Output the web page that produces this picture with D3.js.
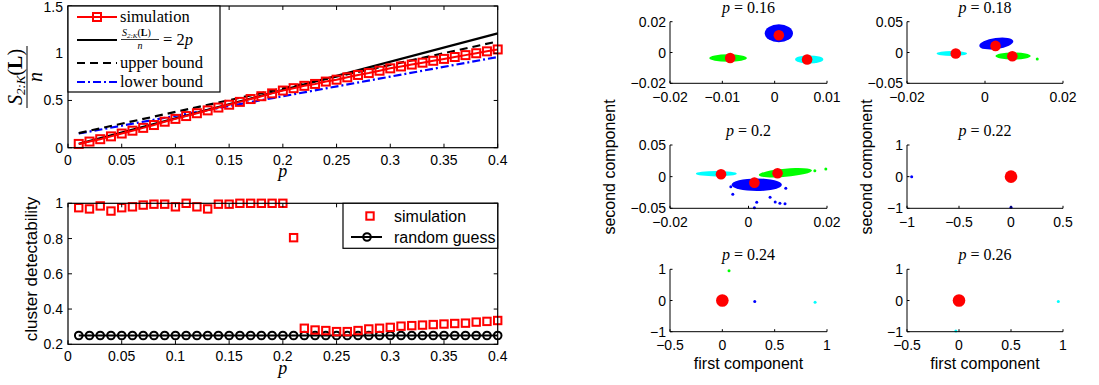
<!DOCTYPE html>
<html><head><meta charset="utf-8">
<script src="https://cdn.jsdelivr.net/npm/d3@7"></script>
<style>body{margin:0;background:#fff}svg{display:block}</style>
</head><body><svg id="c" width="1099" height="385"></svg>
<script>
// ---------- data ----------
const pValues = [0.01,0.02,0.03,0.04,0.05,0.06,0.07,0.08,0.09,0.10,0.11,0.12,0.13,0.14,0.15,0.16,0.17,0.18,0.19,0.20,
                 0.21,0.22,0.23,0.24,0.25,0.26,0.27,0.28,0.29,0.30,0.31,0.32,0.33,0.34,0.35,0.36,0.37,0.38,0.39,0.40];
const simRatio = [0.04,0.065,0.09,0.12,0.15,0.18,0.21,0.24,0.275,0.305,0.335,0.365,0.395,0.425,0.455,0.485,0.515,0.545,0.575,0.605,
                  0.63,0.655,0.675,0.70,0.72,0.745,0.77,0.79,0.815,0.84,0.86,0.88,0.90,0.92,0.94,0.96,0.98,1.00,1.02,1.04];
const theoryP = [0.01,0.40];
const theoryRatio = [0.04,1.21];
const upperP = [0.01,0.40];
const upperRatio = [0.155,1.125];
const lowerP = [0.01,0.40];
const lowerRatio = [0.15,0.96];
const detectSim = [0.975,0.968,0.985,0.956,0.975,0.98,0.99,0.995,0.995,0.98,1.0,0.98,0.968,0.995,0.995,1.0,1.0,1.0,1.0,1.0,
                   0.805,0.291,0.281,0.278,0.272,0.272,0.278,0.287,0.291,0.296,0.303,0.306,0.309,0.312,0.315,0.318,0.32,0.326,0.33,0.335];
const detectRandom = [0.25,0.25,0.25,0.25,0.25,0.25,0.25,0.25,0.25,0.25,0.25,0.25,0.25,0.25,0.25,0.25,0.25,0.25,0.25,0.25,
                      0.25,0.25,0.25,0.25,0.25,0.25,0.25,0.25,0.25,0.25,0.25,0.25,0.25,0.25,0.25,0.25,0.25,0.25,0.25,0.25];
const pTicks = [0,0.05,0.1,0.15,0.2,0.25,0.3,0.35,0.4];
const ratioTicks = [0,0.5,1,1.5];
const detectTicks = [0.2,0.4,0.6,0.8,1];

const panelTitles = ["0.16","0.18","0.2","0.22","0.24","0.26"];
const panelXDomains = [[-0.02,0.01],[-0.02,0.02],[-0.02,0.02],[-1,0.5],[-0.5,1],[-0.5,1]];
const panelYDomains = [[-0.02,0.02],[-0.05,0.05],[-0.05,0.05],[-1,1],[-1,1],[-1,1]];
const panelXTicks = [[-0.02,-0.01,0,0.01],[-0.02,0,0.02],[-0.02,0,0.02],[-1,-0.5,0,0.5],[-0.5,0,0.5,1],[-0.5,0,0.5,1]];
const panelYTicks = [[-0.02,0,0.02],[-0.05,0,0.05],[-0.05,0,0.05],[-1,0,1],[-1,0,1],[-1,0,1]];

// dense point clouds summarised as ellipses
const clusterPanel = [0,0,0,1,1,1,2,2,2];
const clusterColor = ["#0000ff","#00ff00","#00ffff","#0000ff","#00ffff","#00ff00","#00ffff","#00ff00","#0000ff"];
const clusterX  = [0.0008,-0.0089,0.0066, 0.0029,-0.0085,0.0072, -0.0082,0.0094,0.0021];
const clusterY  = [0.0125,-0.0036,-0.0045, 0.0146,-0.0016,-0.0058, 0.0046,0.0062,-0.0128];
const clusterRx = [0.0027,0.0036,0.0027, 0.0044,0.0039,0.0045, 0.0052,0.0068,0.0064];
const clusterRy = [0.0058,0.0024,0.0026, 0.0090,0.0042,0.0058, 0.0042,0.0065,0.0100];
const clusterTilt = [0,0,0,-8,0,0,0,-5,0];

// isolated points
const pointPanel = [1,2,2,2,2,2,2,2,2,2,2,2,3,3,4,4,4,5,5];
const pointColor = ["#00ff00","#00ff00","#00ff00","#0000ff","#0000ff","#0000ff","#0000ff","#0000ff","#0000ff","#0000ff","#0000ff","#0000ff",
                    "#0000ff","#0000ff","#00ff00","#0000ff","#00ffff","#00ffff","#00ffff"];
const pointX = [0.0134,0.0169,0.0197,-0.0045,-0.004,0.0021,0.0055,0.0068,0.008,0.0093,0.0015,0.0095,
                -0.955,0.0,0.064,0.31,0.886,0.955,-0.03];
const pointY = [-0.0104,0.0095,0.012,-0.0158,-0.0278,-0.0404,-0.0325,-0.040,-0.042,-0.043,-0.049,-0.0183,
                0.0,-0.97,0.95,-0.03,-0.06,-0.03,-0.98];

// centroids
const centroidPanel = [0,0,0,1,1,1,2,2,2,3,4,5];
const centroidX = [0.0008,-0.0085,0.0062, 0.0027,-0.0075,0.007, -0.007,0.0074,0.0015, 0,0,0];
const centroidY = [0.0112,-0.0036,-0.0045, 0.0107,-0.0016,-0.006, 0.0038,0.0053,-0.0095, 0,0,0];

// ---------- drawing ----------
const svg = d3.select("#c");
const SANS = "'Liberation Sans', Arial, sans-serif";
const SERIF = "'Liberation Serif', 'Times New Roman', serif";
const fmt = v => (v < 0 ? "\u2212" : "") + String(Math.abs(v));

function boxAxes(g, x, y, xt, yt) {
  const [x0, x1] = x.range(), [y0, y1] = y.range();
  g.append("rect").attr("x", x0).attr("y", y1).attr("width", x1 - x0).attr("height", y0 - y1)
    .attr("fill", "none").attr("stroke", "#000").attr("stroke-width", 1.2);
  const tl = 4;
  xt.forEach(v => {
    const px = x(v);
    g.append("line").attr("x1", px).attr("x2", px).attr("y1", y0).attr("y2", y0 - tl).attr("stroke", "#000");
    g.append("line").attr("x1", px).attr("x2", px).attr("y1", y1).attr("y2", y1 + tl).attr("stroke", "#000");
    g.append("text").attr("x", px).attr("y", y0 + 17).attr("text-anchor", "middle")
      .attr("font-family", SANS).attr("font-size", 14).text(fmt(v));
  });
  yt.forEach(v => {
    const py = y(v);
    g.append("line").attr("x1", x0).attr("x2", x0 + tl).attr("y1", py).attr("y2", py).attr("stroke", "#000");
    g.append("line").attr("x1", x1).attr("x2", x1 - tl).attr("y1", py).attr("y2", py).attr("stroke", "#000");
    g.append("text").attr("x", x0 - 5).attr("y", Math.max(py + 5, 12)).attr("text-anchor", "end")
      .attr("font-family", SANS).attr("font-size", 14).text(fmt(v));
  });
}

// ----- top-left -----
const xL = d3.scaleLinear().domain([0, 0.4]).range([68, 497.7]);
const yT = d3.scaleLinear().domain([0, 1.5]).range([147.7, 6]);
const gT = svg.append("g");
const line = d3.line();

gT.append("path").attr("d", line(lowerP.map((p, i) => [xL(p), yT(lowerRatio[i])])))
  .attr("fill", "none").attr("stroke", "#0000ff").attr("stroke-width", 2.2).attr("stroke-dasharray", "8,3,2,3");
gT.append("path").attr("d", line(upperP.map((p, i) => [xL(p), yT(upperRatio[i])])))
  .attr("fill", "none").attr("stroke", "#000").attr("stroke-width", 2.2).attr("stroke-dasharray", "8,5");
gT.append("path").attr("d", line(theoryP.map((p, i) => [xL(p), yT(theoryRatio[i])])))
  .attr("fill", "none").attr("stroke", "#000").attr("stroke-width", 2.2);
gT.append("path").attr("d", line(pValues.map((p, i) => [xL(p), yT(simRatio[i])])))
  .attr("fill", "none").attr("stroke", "#ff0000").attr("stroke-width", 2);
gT.selectAll("rect.sq").data(pValues).enter().append("rect")
  .attr("x", (p) => xL(p) - 4).attr("y", (p, i) => yT(simRatio[i]) - 4)
  .attr("width", 8).attr("height", 8).attr("fill", "none").attr("stroke", "#ff0000").attr("stroke-width", 2);
boxAxes(gT, xL, yT, pTicks, ratioTicks);

// legend top-left
const lg = svg.append("g");
lg.append("rect").attr("x", 68).attr("y", 6).attr("width", 152).attr("height", 86)
  .attr("fill", "#fff").attr("stroke", "#000").attr("stroke-width", 1.2);
const legX0 = 77, legX1 = 117, legT = 120;
lg.append("line").attr("x1", legX0).attr("x2", legX1).attr("y1", 17).attr("y2", 17).attr("stroke", "#ff0000").attr("stroke-width", 2);
lg.append("rect").attr("x", 97 - 4).attr("y", 17 - 4).attr("width", 8).attr("height", 8).attr("fill", "none").attr("stroke", "#ff0000").attr("stroke-width", 2);
lg.append("text").attr("x", legT).attr("y", 22).attr("font-family", SERIF).attr("font-size", 16.5).text("simulation");
lg.append("line").attr("x1", legX0).attr("x2", legX1).attr("y1", 40).attr("y2", 40).attr("stroke", "#000").attr("stroke-width", 2.2);
// fraction in legend
const fr = lg.append("text").attr("x", 122).attr("y", 36).attr("font-family", SERIF).attr("font-size", 10);
fr.append("tspan").attr("font-style", "italic").text("S");
fr.append("tspan").attr("font-size", 7).attr("dy", 2).attr("font-style", "italic").text("2:K");
fr.append("tspan").attr("dy", -2).text("(");
fr.append("tspan").attr("font-weight", "bold").text("L");
fr.append("tspan").text(")");
lg.append("line").attr("x1", 121).attr("x2", 159).attr("y1", 39.5).attr("y2", 39.5).attr("stroke", "#000").attr("stroke-width", 0.8);
lg.append("text").attr("x", 140).attr("y", 49).attr("text-anchor", "middle").attr("font-family", SERIF).attr("font-style", "italic").attr("font-size", 10).text("n");
const eq = lg.append("text").attr("x", 163).attr("y", 45).attr("font-family", SERIF).attr("font-size", 16.5);
eq.append("tspan").text("= 2");
eq.append("tspan").attr("font-style", "italic").text("p");
lg.append("line").attr("x1", legX0).attr("x2", legX1).attr("y1", 63).attr("y2", 63).attr("stroke", "#000").attr("stroke-width", 2.2).attr("stroke-dasharray", "8,5");
lg.append("text").attr("x", legT).attr("y", 68).attr("font-family", SERIF).attr("font-size", 16.5).text("upper bound");
lg.append("line").attr("x1", legX0).attr("x2", legX1).attr("y1", 82).attr("y2", 82).attr("stroke", "#0000ff").attr("stroke-width", 2.2).attr("stroke-dasharray", "8,3,2,3");
lg.append("text").attr("x", legT).attr("y", 87).attr("font-family", SERIF).attr("font-size", 16.5).text("lower bound");

// top-left labels
svg.append("text").attr("x", xL(0.2)).attr("y", 177).attr("text-anchor", "middle")
  .attr("font-family", SERIF).attr("font-style", "italic").attr("font-size", 18).text("p");
const yl = svg.append("g").attr("transform", "translate(27,77) rotate(-90)");
const num = yl.append("text").attr("x", 0).attr("y", -5).attr("text-anchor", "middle").attr("font-family", SERIF).attr("font-size", 20);
num.append("tspan").attr("font-style", "italic").text("S");
num.append("tspan").attr("font-size", 13).attr("dy", 3).attr("font-style", "italic").text("2:K");
num.append("tspan").attr("dy", -3).text("(");
num.append("tspan").attr("font-weight", "bold").text("L");
num.append("tspan").text(")");
yl.append("line").attr("x1", -31).attr("x2", 31).attr("y1", 0).attr("y2", 0).attr("stroke", "#000").attr("stroke-width", 1);
yl.append("text").attr("x", 0).attr("y", 15).attr("text-anchor", "middle").attr("font-family", SERIF).attr("font-style", "italic").attr("font-size", 20).text("n");

// ----- bottom-left -----
const yB = d3.scaleLinear().domain([0.2, 1]).range([344.3, 203.3]);
const gB = svg.append("g");
gB.append("path").attr("d", line(pValues.map((p, i) => [xL(p), yB(detectRandom[i])])))
  .attr("fill", "none").attr("stroke", "#000").attr("stroke-width", 2);
gB.selectAll("circle.rg").data(pValues).enter().append("circle")
  .attr("cx", p => xL(p)).attr("cy", (p, i) => yB(detectRandom[i])).attr("r", 3.8)
  .attr("fill", "none").attr("stroke", "#000").attr("stroke-width", 2);
gB.selectAll("rect.ds").data(pValues).enter().append("rect")
  .attr("x", p => xL(p) - 3.7).attr("y", (p, i) => yB(detectSim[i]) - 3.7)
  .attr("width", 7.4).attr("height", 7.4).attr("fill", "none").attr("stroke", "#ff0000").attr("stroke-width", 2);
boxAxes(gB, xL, yB, pTicks, detectTicks);
svg.append("text").attr("x", xL(0.2)).attr("y", 374).attr("text-anchor", "middle")
  .attr("font-family", SERIF).attr("font-style", "italic").attr("font-size", 18).text("p");
svg.append("text").attr("transform", "translate(37,269) rotate(-90)").attr("text-anchor", "middle")
  .attr("font-family", SANS).attr("font-size", 17).text("cluster detectability");
// legend bottom
const lb = svg.append("g");
lb.append("rect").attr("x", 343).attr("y", 203.3).attr("width", 154.7).attr("height", 45)
  .attr("fill", "#fff").attr("stroke", "#000").attr("stroke-width", 1.2);
lb.append("rect").attr("x", 370 - 3.7).attr("y", 216 - 3.7).attr("width", 7.4).attr("height", 7.4)
  .attr("fill", "none").attr("stroke", "#ff0000").attr("stroke-width", 2);
lb.append("text").attr("x", 394).attr("y", 221.5).attr("font-family", SANS).attr("font-size", 16).text("simulation");
lb.append("line").attr("x1", 351).attr("x2", 382).attr("y1", 237).attr("y2", 237).attr("stroke", "#000").attr("stroke-width", 2);
lb.append("circle").attr("cx", 367).attr("cy", 237).attr("r", 3.8).attr("fill", "none").attr("stroke", "#000").attr("stroke-width", 2);
lb.append("text").attr("x", 394).attr("y", 242.5).attr("font-family", SANS).attr("font-size", 16).text("random guess");

// ----- right panels -----
const colX = [[670, 827], [907, 1063]];
const rowY = [[83.3, 21.7], [208.3, 145], [331.7, 269.3]];
const panels = panelTitles.map((t, i) => {
  const c = i % 2, r = Math.floor(i / 2);
  const x = d3.scaleLinear().domain(panelXDomains[i]).range(colX[c]);
  const y = d3.scaleLinear().domain(panelYDomains[i]).range(rowY[r]);
  return { x, y, g: svg.append("g") };
});
panels.forEach((P, i) => {
  const { x, y, g } = P;
  const [x0, x1] = x.range(), [y0, y1] = y.range();
  clusterPanel.forEach((pi, k) => {
    if (pi !== i) return;
    const cx = x(clusterX[k]), cy = y(clusterY[k]);
    const rx = Math.abs(x(clusterX[k] + clusterRx[k]) - cx);
    const ry = Math.abs(y(clusterY[k] + clusterRy[k]) - cy);
    g.append("ellipse").attr("cx", cx).attr("cy", cy).attr("rx", rx).attr("ry", ry)
      .attr("transform", `rotate(${clusterTilt[k]},${cx},${cy})`).attr("fill", clusterColor[k]);
  });
  pointPanel.forEach((pi, k) => {
    if (pi !== i) return;
    g.append("circle").attr("cx", x(pointX[k])).attr("cy", y(pointY[k])).attr("r", 1.5).attr("fill", pointColor[k]);
  });
  centroidPanel.forEach((pi, k) => {
    if (pi !== i) return;
    g.append("circle").attr("cx", x(centroidX[k])).attr("cy", y(centroidY[k])).attr("r", i < 3 ? 5.3 : 6.3).attr("fill", "#ff0000");
  });
  g.append("line").attr("x1", x0).attr("x2", x0).attr("y1", y0).attr("y2", y1).attr("stroke", "#000");
  g.append("line").attr("x1", x0).attr("x2", x1).attr("y1", y0).attr("y2", y0).attr("stroke", "#000");
  panelXTicks[i].forEach(v => {
    const px = x(v);
    g.append("line").attr("x1", px).attr("x2", px).attr("y1", y0).attr("y2", y0 - 2.5).attr("stroke", "#000");
    g.append("text").attr("x", px).attr("y", y0 + 18.5).attr("text-anchor", "middle")
      .attr("font-family", SANS).attr("font-size", 14).text(fmt(v));
  });
  panelYTicks[i].forEach(v => {
    const py = y(v);
    g.append("line").attr("x1", x0).attr("x2", x0 + 2.5).attr("y1", py).attr("y2", py).attr("stroke", "#000");
    g.append("text").attr("x", x0 - 4).attr("y", py + 5).attr("text-anchor", "end")
      .attr("font-family", SANS).attr("font-size", 14).text(fmt(v));
  });
  const tt = g.append("text").attr("x", (x0 + x1) / 2).attr("y", y1 - 9).attr("text-anchor", "middle")
    .attr("font-family", SERIF).attr("font-size", 16);
  tt.append("tspan").attr("font-style", "italic").text("p");
  tt.append("tspan").text(" = " + panelTitles[i]);
});
[615, 872].forEach(xp => {
  svg.append("text").attr("transform", `translate(${xp},167) rotate(-90)`).attr("text-anchor", "middle")
    .attr("font-family", SANS).attr("font-size", 16).text("second component");
});
[748.5, 985].forEach(xp => {
  svg.append("text").attr("x", xp).attr("y", 369).attr("text-anchor", "middle")
    .attr("font-family", SANS).attr("font-size", 16).text("first component");
});
</script></body></html>
